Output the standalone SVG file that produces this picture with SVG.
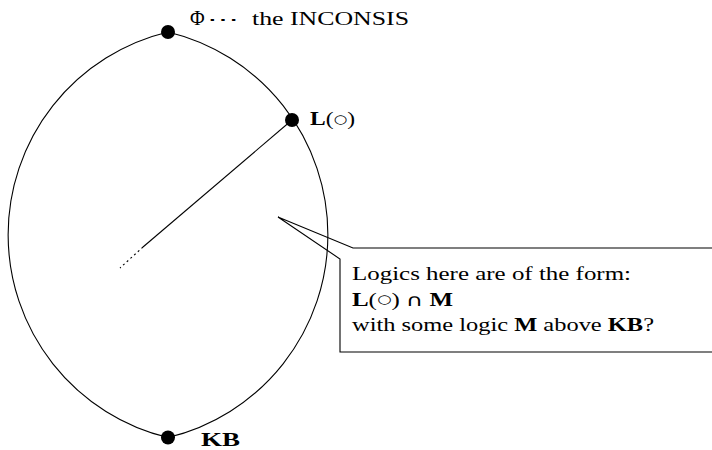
<svg xmlns="http://www.w3.org/2000/svg" width="712" height="450" viewBox="0 0 712 450">
<style>
.t{font-family:"Liberation Serif","DejaVu Serif",serif;font-size:18px;fill:#000}
.b{font-weight:bold}
.s{font-family:"DejaVu Sans",sans-serif;font-size:17px}
.c{font-family:"DejaVu Sans",sans-serif;font-size:12px}
.ln{fill:none;stroke:#000;stroke-width:1.1}
.dot{fill:#000}
</style>
<rect width="712" height="450" fill="#fff"/>
<g id="connectors">
<path id="lens" class="ln" d="M168 32 A208.5 208.5 0 0 0 168 437.5 A208.5 208.5 0 0 0 168 32"/>
<path class="ln" d="M292 120 L143 247"/>
<path class="ln" d="M143 247 L120 268" stroke-dasharray="2 3"/>
<path id="callout" class="ln" d="M712 248 L353 248 L278 217 L340 259 L340 352 L712 352"/>
</g>
<g id="node-top">
<circle class="dot" cx="168" cy="32" r="7"/>
<text class="t" y="25"><tspan x="190" style="font-size:20px">Φ</tspan><tspan x="207" textLength="32" lengthAdjust="spacingAndGlyphs">⋯</tspan><tspan x="252" textLength="157" lengthAdjust="spacingAndGlyphs">the INCONSIS</tspan></text>
</g>
<g id="node-L">
<circle class="dot" cx="292" cy="120" r="7"/>
<text class="t" x="310" y="125" textLength="45" lengthAdjust="spacingAndGlyphs"><tspan class="b">L</tspan>(<tspan class="c" dy="-2.5">○</tspan><tspan dy="2.5">)</tspan></text>
</g>
<g id="node-KB">
<circle class="dot" cx="168" cy="437.5" r="7"/>
<text class="t b" x="201" y="446" textLength="39" lengthAdjust="spacingAndGlyphs">KB</text>
</g>
<g id="note">
<text class="t" x="352" y="280" textLength="279" lengthAdjust="spacingAndGlyphs">Logics here are of the form:</text>
<text class="t" x="352" y="305.5" textLength="101" lengthAdjust="spacingAndGlyphs"><tspan class="b">L</tspan>(<tspan class="c" dy="-2.5">○</tspan><tspan dy="2.5">) </tspan><tspan class="s">∩</tspan> <tspan class="b">M</tspan></text>
<text class="t" x="352" y="331" textLength="302" lengthAdjust="spacingAndGlyphs">with some logic <tspan class="b">M</tspan> above <tspan class="b">KB</tspan>?</text>
</g>
</svg>
